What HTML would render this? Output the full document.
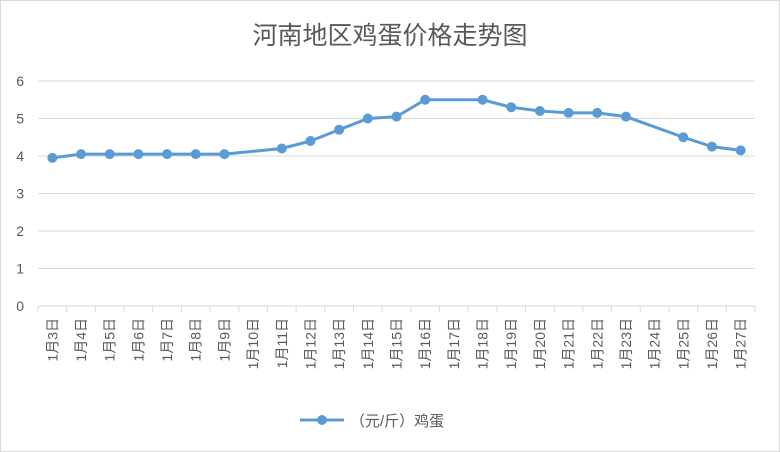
<!DOCTYPE html>
<html><head><meta charset="utf-8"><style>
body{margin:0;background:#fff}
svg{display:block;font-family:"Liberation Sans","Noto Sans CJK SC",sans-serif}
</style></head><body>
<svg id="c" width="780" height="452" xmlns="http://www.w3.org/2000/svg">
<rect x="0.5" y="0.5" width="779" height="451" fill="#fff" stroke="#d9d9d9"/>
<text x="390" y="44" text-anchor="middle" font-size="25" fill="#595959">河南地区鸡蛋价格走势图</text>
<g id="grid"></g>
<g id="yaxis"></g>
<g id="xaxis"></g>
<g id="series"></g>
<g>
<line x1="300" y1="420" x2="344" y2="420" stroke="#5b9bd5" stroke-width="3"/>
<circle cx="322" cy="420" r="5" fill="#5b9bd5"/>
<text x="350" y="426" font-size="15" fill="#595959">（元/斤）鸡蛋</text>
</g>
</svg>
<script>
const categories=["1月3日","1月4日","1月5日","1月6日","1月7日","1月8日","1月9日","1月10日","1月11日","1月12日","1月13日","1月14日","1月15日","1月16日","1月17日","1月18日","1月19日","1月20日","1月21日","1月22日","1月23日","1月24日","1月25日","1月26日","1月27日"];
const values=[3.95,4.05,4.05,4.05,4.05,4.05,4.05,null,4.2,4.4,4.7,5.0,5.05,5.5,null,5.5,5.3,5.2,5.15,5.15,5.05,null,4.5,4.25,4.15];
const yTicks=[0,1,2,3,4,5,6];
const NS="http://www.w3.org/2000/svg";
const X0=38,X1=755,Y0=306,Y6=81;
const band=(X1-X0)/categories.length;
const xs=i=>X0+band*(i+0.5);
const ys=v=>Y0-(v/6)*(Y0-Y6);
function mk(tag,attrs,parent){const e=document.createElementNS(NS,tag);for(const k in attrs)e.setAttribute(k,attrs[k]);parent.appendChild(e);return e;}
const grid=document.getElementById('grid'),ya=document.getElementById('yaxis'),xa=document.getElementById('xaxis'),se=document.getElementById('series');
yTicks.forEach(t=>{
  if(t>0){const l=mk('line',{x1:X0,x2:X1,y1:ys(t),y2:ys(t),stroke:'#d9d9d9'},grid);
  
  }
  const tx=mk('text',{x:24,y:ys(t)+5,'text-anchor':'end','font-size':14,fill:'#595959'},ya);
  tx.textContent=t;
  
  
});
const ax=mk('line',{x1:X0,x2:X1,y1:Y0,y2:Y0,stroke:'#d9d9d9'},xa);


for(let i=0;i<=categories.length;i++){
  const tk=mk('line',{x1:X0+band*i,x2:X0+band*i,y1:Y0,y2:Y0+6,stroke:'#d9d9d9'},xa);
  
  
}
categories.forEach((c,i)=>{
  const x=xs(i)+5,y=318;
  const tx=mk('text',{x:x,y:y,'text-anchor':'end','font-size':14,fill:'#595959',transform:`rotate(-90 ${x} ${y})`},xa);
  tx.textContent=c;
  
  
});
const pts=[];values.forEach((v,i)=>{if(v!=null)pts.push([xs(i),ys(v)]);});
const pl=mk('polyline',{points:pts.map(p=>p.join(',')).join(' '),fill:'none',stroke:'#5b9bd5','stroke-width':3,'stroke-linejoin':'round'},se);


values.forEach((v,i)=>{if(v==null)return;
  const c=mk('circle',{cx:xs(i),cy:ys(v),r:5,fill:'#5b9bd5'},se);
  
  
});
</script>
</body></html>
